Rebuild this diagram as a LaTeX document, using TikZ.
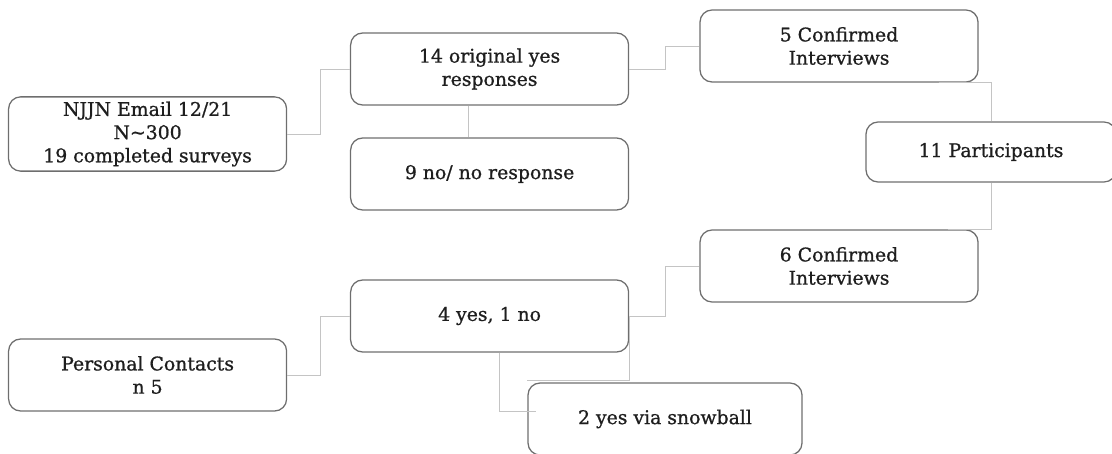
\documentclass[tikz,border=0pt]{standalone}
\usepackage{fontspec}
\setmainfont{DejaVu Serif}
\newfontfamily\rotulo[FakeBold=0.9]{DejaVu Serif}
\definecolor{borde}{HTML}{6E6E6E}
\definecolor{enlace}{HTML}{C4C4C4}
\definecolor{texto}{HTML}{1E1E1E}

\begin{document}
\begin{tikzpicture}[font=\rotulo\fontsize{13.4}{16.5}\selectfont, text=texto,
  caja/.style={draw=borde, line width=0.9pt, rounded corners=0.3cm, align=center, minimum width=6.95cm, minimum height=1.8cm},
  enlace/.style={draw=enlace, line width=0.7pt}]
  \useasboundingbox (0,0) rectangle (27.8,-11.35);
  \node[caja] (email) at (3.69,-3.35) {NJJN Email 12/21\\N\textasciitilde300\\19 completed surveys};
  \node[caja] (yes) at (12.24,-1.725) {14 original yes\\responses};
  \node[caja] (no) at (12.24,-4.35) {9 no/ no response};
  \node[caja] (conf5) at (20.975,-1.15) {5 Confirmed\\Interviews};
  \node[caja, minimum width=6.25cm, minimum height=1.5cm] (part) at (24.775,-3.8) {11 Participants};
  \node[caja] (conf6) at (20.975,-6.65) {6 Confirmed\\Interviews};
  \node[caja] (cuatro) at (12.24,-7.9) {4 yes, 1 no};
  \node[caja] (personal) at (3.69,-9.375) {Personal Contacts\\n 5};
  \node[caja, minimum width=6.85cm] (bola) at (16.625,-10.475) {2 yes via snowball};
  \draw[enlace] (email.east) -- ++(0.825,0) |- (yes.west);
  \draw[enlace] (yes.east) -- ++(0.9,0) |- (conf5.west);
  \draw[enlace] ([xshift=-0.525cm]yes.south) -- ([xshift=-0.525cm]no.north);
  \draw[enlace] ([xshift=-1cm]conf5.south east) -| (part.north);
  \draw[enlace] (part.south) |- ([xshift=-0.775cm]conf6.north east);
  \draw[enlace] (personal.east) -- ++(0.825,0) |- (cuatro.west);
  \draw[enlace] (cuatro.east) -- ++(0.9,0) |- (conf6.west);
  \draw[enlace] ([xshift=0.24cm]cuatro.south) |- ([xshift=0.225cm, yshift=0.2cm]bola.west);
  \draw[enlace] (cuatro.east) |- ([yshift=0.05cm]bola.north west);
\end{tikzpicture}
\end{document}
